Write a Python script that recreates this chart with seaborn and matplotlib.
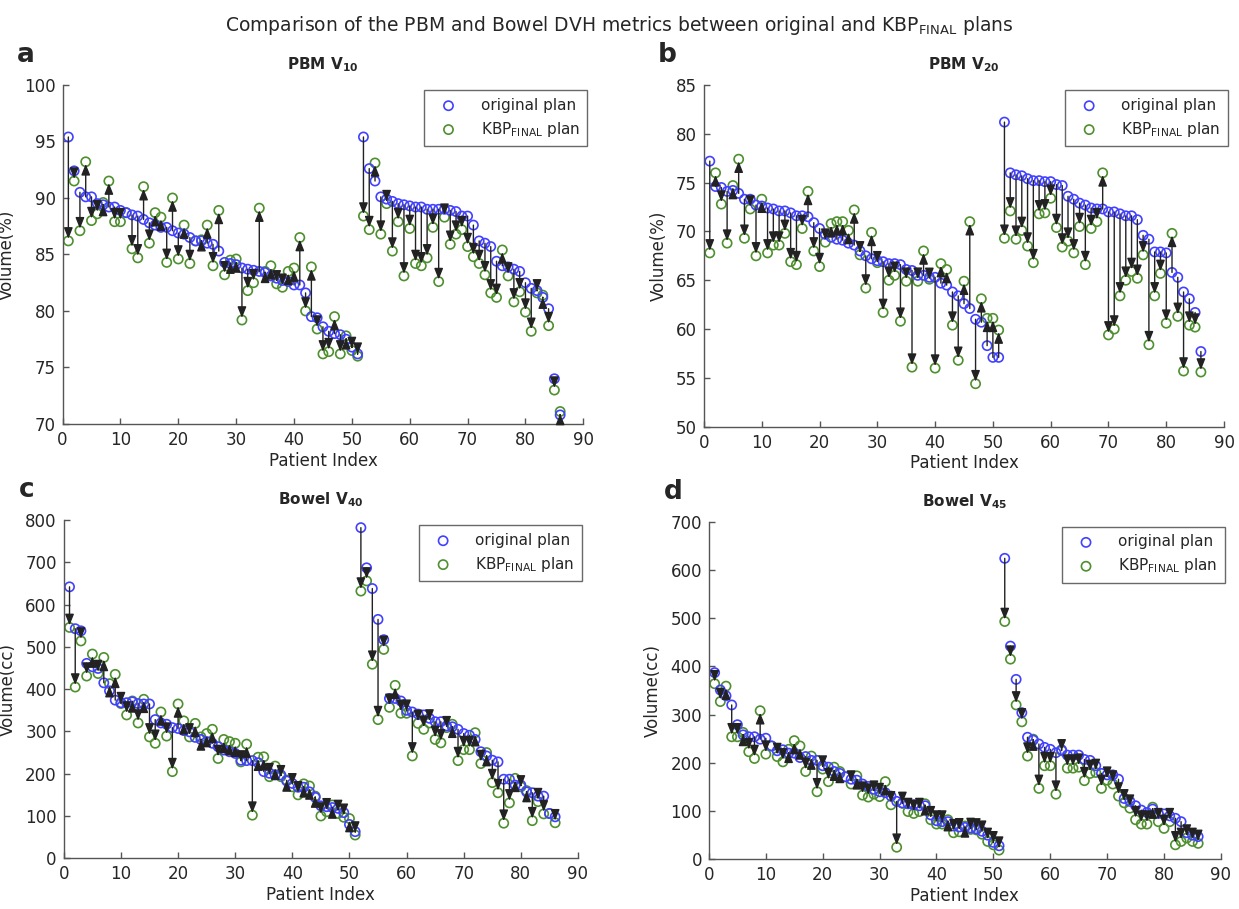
import numpy as np
import pandas as pd
import matplotlib
matplotlib.use("Agg")
import matplotlib.pyplot as plt
import seaborn as sns

patients = np.arange(1, 87)

pbm10_orig = [95.4, 92.4, 90.5, 90.1, 90.1, 89.5, 89.4, 89.2, 89.2, 88.9,
              88.7, 88.5, 88.4, 88.1, 87.8, 87.6, 87.4, 87.4, 87.1, 86.9,
              86.8, 86.5, 86.2, 86.2, 86.0, 85.9, 85.3, 84.3, 84.2, 84.1,
              83.8, 83.7, 83.6, 83.5, 83.4, 83.1, 82.9, 82.7, 82.6, 82.3,
              82.3, 81.6, 79.5, 79.4, 78.6, 78.2, 78.0, 77.9, 77.5, 76.8,
              76.2,
              95.4, 92.6, 91.5, 90.1, 89.9, 89.7, 89.5, 89.4, 89.3,
              89.2, 89.2, 89.0, 89.0, 89.0, 89.0, 88.9, 88.8, 88.4, 88.4,
              87.6, 86.2, 86.0, 85.7, 84.4, 84.0, 83.9, 83.7, 83.5, 82.5,
              82.0, 81.8, 81.2, 80.2, 74.0, 70.8]
pbm10_kbp = [86.2, 91.5, 87.1, 93.2, 88.0, 88.6, 89.6, 91.5, 87.9, 87.9,
             88.7, 85.5, 84.7, 91.0, 86.0, 88.7, 88.3, 84.3, 90.0, 84.6,
             87.6, 84.2, 86.2, 86.3, 87.6, 84.0, 88.9, 83.2, 84.5, 84.6,
             79.2, 81.8, 82.5, 89.1, 83.5, 84.0, 82.4, 82.1, 83.5, 83.8,
             86.5, 80.0, 83.9, 78.4, 76.2, 76.4, 79.5, 76.2, 77.8, 76.5,
             76.0,
             88.4, 87.2, 93.1, 86.8, 89.5, 85.3, 87.9, 83.1, 87.3,
             84.2, 84.0, 84.7, 87.4, 82.6, 88.3, 85.9, 86.8, 87.2, 85.7,
             84.8, 84.2, 83.2, 81.6, 81.2, 85.4, 83.1, 80.8, 81.7, 79.9,
             78.2, 81.6, 81.4, 78.7, 73.0, 71.1]

pbm20_orig = [77.2, 74.6, 74.5, 74.1, 74.2, 73.9, 73.3, 73.3, 72.7, 72.6,
              72.4, 72.3, 72.1, 72.1, 71.9, 71.6, 71.6, 71.5, 70.9, 70.3,
              69.7, 69.4, 69.2, 69.1, 68.8, 68.6, 68.0, 67.5, 67.2, 67.0,
              66.9, 66.7, 66.7, 66.6, 66.1, 66.0, 65.5, 65.5, 65.3, 65.3,
              64.7, 64.5, 63.8, 63.4, 62.6, 62.1, 61.0, 60.7, 58.3, 57.1,
              57.1,
              81.2, 76.0, 75.8, 75.7, 75.4, 75.2, 75.2, 75.1, 75.1,
              74.8, 74.7, 73.6, 73.3, 72.9, 72.7, 72.4, 72.3, 72.3, 72.0,
              72.0, 71.8, 71.6, 71.6, 71.2, 69.6, 69.2, 67.9, 67.9, 67.8,
              65.8, 65.3, 63.8, 63.1, 61.7, 57.7]
pbm20_kbp = [67.8, 76.0, 72.8, 68.8, 74.7, 77.4, 69.3, 72.3, 67.5, 73.3,
             67.8, 68.6, 68.6, 69.8, 66.9, 66.6, 70.3, 74.1, 68.0, 66.4,
             68.9, 70.8, 71.0, 71.0, 70.1, 72.2, 67.6, 64.2, 69.9, 66.8,
             61.7, 65.0, 65.5, 60.8, 64.9, 56.1, 64.9, 68.0, 65.1, 56.0,
             66.7, 66.1, 60.4, 56.8, 64.9, 71.0, 54.4, 63.1, 61.1, 61.1,
             59.9,
             69.3, 72.1, 69.2, 70.1, 68.5, 66.8, 71.8, 71.9, 73.4,
             70.4, 68.4, 69.0, 67.8, 70.5, 66.6, 70.3, 71.0, 76.0, 59.4,
             60.0, 63.4, 65.0, 65.9, 65.2, 67.6, 58.4, 63.4, 65.7, 60.6,
             69.8, 61.3, 55.7, 60.4, 60.2, 55.6]

bowel40_orig = [642, 543, 538, 461, 453, 449, 415, 396, 374, 368,
                368, 370, 366, 365, 365, 328, 320, 317, 309, 307,
                302, 299, 286, 281, 276, 272, 264, 256, 252, 248,
                232, 231, 231, 226, 205, 201, 197, 197, 183, 177,
                168, 168, 157, 144, 124, 122, 120, 118, 108, 80,
                63,
                782, 687, 638, 565, 517, 378, 378, 372, 350,
                346, 341, 339, 331, 323, 323, 313, 311, 305, 295,
                291, 281, 252, 242, 232, 228, 187, 187, 173, 173,
                157, 155, 147, 147, 106, 98]
bowel40_kbp = [546, 405, 514, 431, 483, 437, 475, 413, 435, 366,
               339, 372, 320, 376, 287, 272, 346, 289, 205, 365,
               325, 287, 319, 287, 295, 305, 236, 281, 276, 272,
               228, 270, 102, 239, 240, 193, 218, 193, 185, 169,
               150, 176, 171, 147, 100, 110, 126, 106, 97, 94,
               55,
               632, 656, 459, 328, 494, 357, 409, 343, 343,
               242, 319, 305, 320, 281, 273, 309, 317, 231, 257,
               257, 297, 224, 250, 179, 155, 83, 131, 189, 169,
               160, 89, 134, 105, 106, 84]

bowel45_orig = [387, 351, 339, 320, 279, 258, 254, 254, 249, 251,
                235, 225, 227, 220, 220, 211, 213, 205, 205, 194,
                191, 182, 178, 171, 166, 164, 156, 151, 145, 140,
                138, 131, 120, 117, 115, 113, 111, 111, 92, 80,
                78, 78, 69, 67, 66, 65, 63, 58, 50, 35,
                28,
                624, 442, 373, 304, 253, 247, 239, 232, 228,
                221, 227, 216, 216, 216, 207, 205, 194, 178, 175,
                175, 166, 126, 120, 111, 102, 97, 104, 95, 94,
                90, 85, 78, 55, 50, 47]
bowel45_kbp = [364, 327, 359, 254, 254, 263, 223, 209, 308, 218,
               235, 213, 202, 228, 246, 235, 182, 214, 140, 187,
               161, 191, 182, 171, 156, 173, 133, 129, 135, 130,
               161, 113, 25, 116, 99, 95, 99, 115, 82, 73,
               73, 82, 55, 57, 69, 62, 61, 52, 37, 30,
               19,
               493, 415, 320, 285, 214, 249, 147, 194, 194,
               135, 225, 189, 189, 191, 163, 178, 180, 147, 164,
               156, 131, 117, 106, 82, 73, 73, 108, 78, 64,
               78, 30, 37, 44, 37, 33]

sns.set_style("ticks")
plt.rcParams["font.family"] = ["DejaVu Sans"]
plt.rcParams["mathtext.fontset"] = "dejavusans"

BLUE = "#4141ff"
GREEN = "#4e8f2e"

fig = plt.figure(figsize=(12.39, 9.09), dpi=100)

panels = [
    ("a", [0.0505, 0.5336, 0.4203, 0.3729], pbm10_orig, pbm10_kbp,
     r"PBM $\mathbf{V_{10}}$", "Volume(%)", (70, 100), np.arange(70, 101, 5)),
    ("b", [0.5682, 0.5306, 0.4197, 0.3759], pbm20_orig, pbm20_kbp,
     r"PBM $\mathbf{V_{20}}$", "Volume(%)", (50, 85), np.arange(50, 86, 5)),
    ("c", [0.0515, 0.0558, 0.4150, 0.3721], bowel40_orig, bowel40_kbp,
     r"Bowel $\mathbf{V_{40}}$", "Volume(cc)", (0, 800), np.arange(0, 801, 100)),
    ("d", [0.5722, 0.0547, 0.4132, 0.3714], bowel45_orig, bowel45_kbp,
     r"Bowel $\mathbf{V_{45}}$", "Volume(cc)", (0, 700), np.arange(0, 701, 100)),
]

for letter, rect, orig, kbp, title, ylab, ylim, yticks in panels:
    ax = fig.add_axes(rect)
    df = pd.DataFrame({"patient": patients, "orig": orig, "kbp": kbp})

    sns.scatterplot(data=df, x="patient", y="orig", ax=ax, color=BLUE,
                    facecolor="none", edgecolor=BLUE, linewidth=1.2, s=44,
                    label="original plan", zorder=2.2)
    sns.scatterplot(data=df, x="patient", y="kbp", ax=ax, color=GREEN,
                    facecolor="none", edgecolor=GREEN, linewidth=1.2, s=44,
                    label=r"KBP$_{\mathrm{FINAL}}$ plan", zorder=2.1)

    # arrows from original value to KBP value
    for p, o, k in zip(df["patient"], df["orig"], df["kbp"]):
        if o == k:
            continue
        ax.annotate("", xy=(p, k), xytext=(p, o),
                    arrowprops=dict(arrowstyle="-|>,head_length=0.55,head_width=0.22",
                                    color="#222222", lw=1.0, shrinkA=0, shrinkB=1.5,
                                    mutation_scale=12),
                    zorder=3)

    ax.set_xlim(0, 90)
    ax.set_ylim(*ylim)
    ax.set_xticks(np.arange(0, 91, 10))
    ax.set_yticks(yticks)
    ax.tick_params(direction="in", length=4, width=1, color="#555555",
                   labelsize=12, pad=5)
    for side in ["top", "right"]:
        ax.spines[side].set_visible(False)
    for side in ["left", "bottom"]:
        ax.spines[side].set_color("#555555")
        ax.spines[side].set_linewidth(1)
    ax.set_xlabel("Patient Index", fontsize=12, labelpad=2)
    ax.set_ylabel(ylab, fontsize=12, labelpad=6)
    ax.set_title(title, fontsize=11, fontweight="bold", pad=11)
    ax.text(-0.088, 1.05, letter, transform=ax.transAxes, fontsize=19,
            fontweight="bold", ha="left", va="bottom")

    leg = ax.legend(loc="upper right", bbox_to_anchor=(1.008, 0.985), fontsize=11,
                    frameon=True, fancybox=False, handlelength=2.2,
                    handletextpad=1.0, borderpad=0.5, labelspacing=0.45,
                    borderaxespad=0)
    leg.get_frame().set_edgecolor("#444444")
    leg.get_frame().set_linewidth(1)

fig.suptitle(r"Comparison of the PBM and Bowel DVH metrics between original and KBP$_{\mathrm{FINAL}}$ plans",
             fontsize=13.5, y=0.985)

fig.savefig("out.png", dpi=100)
